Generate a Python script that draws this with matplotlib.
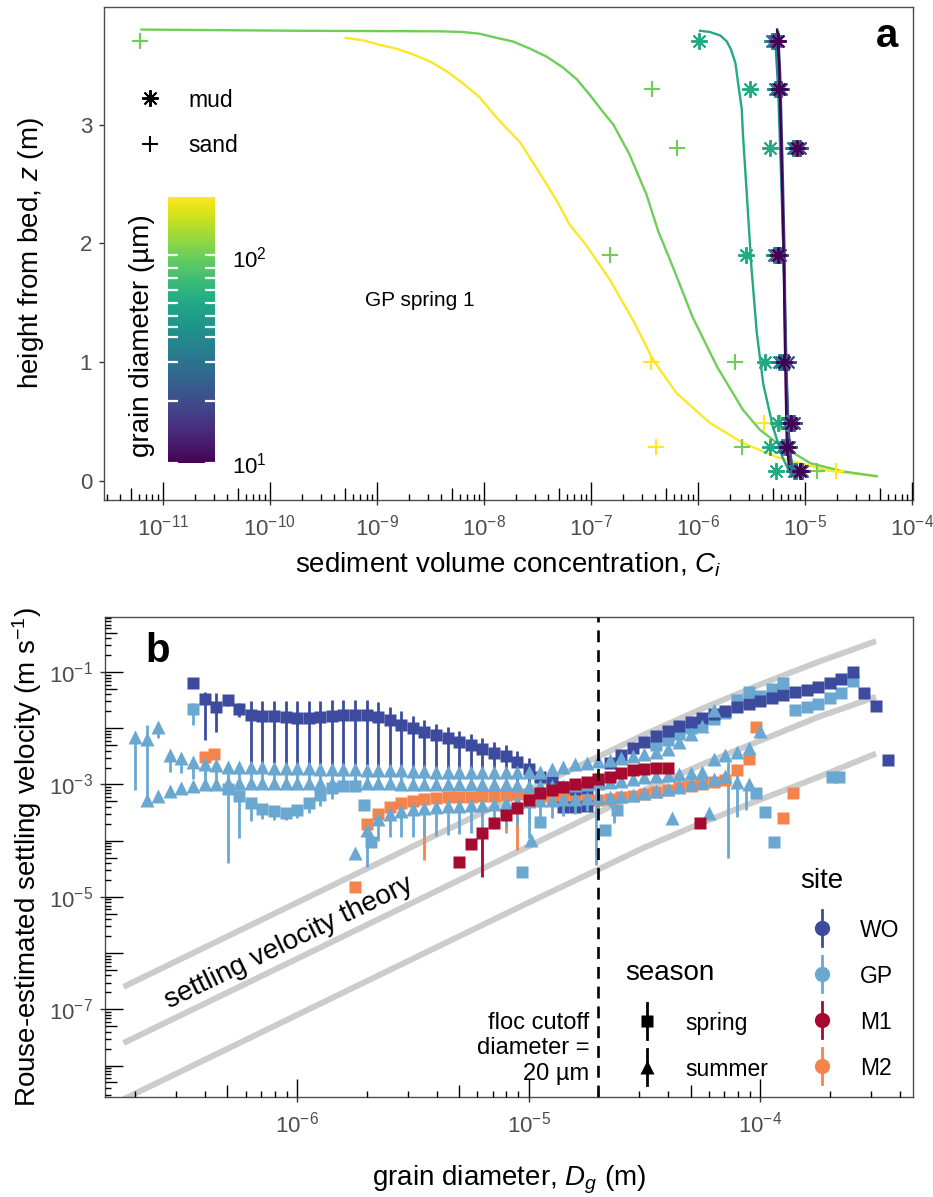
import numpy as np
import matplotlib
matplotlib.use("Agg")
import matplotlib.pyplot as plt
from matplotlib.colors import LogNorm
from matplotlib.cm import ScalarMappable
from matplotlib.lines import Line2D
from matplotlib.ticker import NullLocator

plt.rcParams['font.family'] = ['Liberation Sans', 'DejaVu Sans']
plt.rcParams['mathtext.fontset'] = 'custom'
plt.rcParams['mathtext.rm'] = 'Liberation Sans'
plt.rcParams['mathtext.it'] = 'Liberation Sans:italic'
plt.rcParams['mathtext.bf'] = 'Liberation Sans:bold'

nan = np.nan

# ---------------- panel a: GP spring 1 profiles ----------------
# fitted Rouse profiles: log10 volume concentration and height above bed (m)
prof_196_logc = [-9.29, -9.13, -8.97, -8.82, -8.66, -8.50, -8.35, -8.20, -8.04, -7.92,
                 -7.79, -7.66, -7.57, -7.45, -7.32, -7.20, -7.04, -6.82, -6.61, -6.42,
                 -6.20, -5.89, -5.58, -5.26, -4.79, -4.33]
prof_196_z = [3.73, 3.71, 3.67, 3.64, 3.59, 3.53, 3.45, 3.35, 3.23, 3.10,
              2.97, 2.85, 2.72, 2.55, 2.36, 2.16, 1.98, 1.69, 1.36, 1.02,
              0.74, 0.49, 0.32, 0.20, 0.09, 0.04]
prof_102_logc = [-11.20, -9.72, -8.40, -8.20, -8.04, -7.88, -7.73, -7.57, -7.41, -7.26,
                 -7.13, -7.01, -6.89, -6.79, -6.64, -6.48, -6.37, -6.26, -6.15, -6.05,
                 -5.82, -5.58, -5.42, -5.26, -4.95, -4.64, -4.33]
prof_102_z = [3.80, 3.79, 3.785, 3.78, 3.765, 3.73, 3.70, 3.64, 3.57, 3.48,
              3.38, 3.25, 3.11, 3.00, 2.75, 2.41, 2.10, 1.86, 1.61, 1.38,
              0.96, 0.60, 0.43, 0.32, 0.15, 0.08, 0.04]
prof_60_logc = [-5.98, -5.89, -5.79, -5.73, -5.69, -5.65, -5.62, -5.59, -5.58, -5.54,
                -5.50, -5.45, -5.39, -5.30, -5.21, -5.14]
prof_60_z = [3.79, 3.78, 3.75, 3.70, 3.63, 3.52, 3.32, 3.13, 2.93, 2.37,
             1.80, 1.25, 0.82, 0.46, 0.20, 0.07]
prof_41_logc = [-5.28, -5.25, -5.22, -5.19, -5.17, -5.15, -5.12]
prof_41_z = [3.76, 3.30, 2.50, 1.60, 0.90, 0.35, 0.08]
prof_31_logc = [-5.26, -5.24, -5.22, -5.20, -5.18, -5.16, -5.13, -5.11]
prof_31_z = [3.78, 3.40, 2.70, 1.90, 1.10, 0.50, 0.20, 0.06]
prof_20_logc = [-5.25, -5.23, -5.21, -5.19, -5.18, -5.16, -5.14, -5.12]
prof_20_z = [3.78, 3.40, 2.70, 1.90, 1.10, 0.50, 0.20, 0.06]
prof_10_logc = [-5.26, -5.24, -5.22, -5.20, -5.19, -5.18, -5.17, -5.15, -5.10]
prof_10_z = [3.80, 3.50, 2.80, 2.00, 1.30, 0.80, 0.35, 0.12, 0.03]

# observations at the sensor heights
obs_z = [3.70, 3.30, 2.80, 1.90, 1.00, 0.49, 0.29, 0.08]
sand_196_logc = [nan, nan, nan, nan, -6.44, -5.38, -6.39, -4.71]
sand_102_logc = [-11.21, -6.43, -6.20, -6.82, -5.65, -5.23, -5.59, -4.89]
mud_60_logc = [-5.99, -5.51, -5.33, -5.55, -5.37, -5.25, -5.33, -5.27]
mud_41_logc = [-5.31, -5.28, -5.11, -5.29, -5.24, -5.17, -5.21, -5.10]
mud_31_logc = [-5.29, -5.26, -5.09, -5.27, -5.22, -5.15, -5.19, -5.08]
mud_20_logc = [-5.27, -5.22, -5.05, -5.23, -5.16, -5.10, -5.15, -5.03]
mud_10_logc = [-5.25, -5.24, -5.07, -5.25, -5.20, -5.13, -5.17, -5.05]

class_um = [10, 20, 31, 41, 46, 52, 60, 69, 79, 89, 102]
cbar_min_um, cbar_max_um = 10, 196

# ---------------- panel b: Rouse-estimated settling velocity ----------------
log_d_bins = [-6.70, -6.65, -6.60, -6.55, -6.50, -6.45, -6.40, -6.35, -6.30, -6.25,
              -6.20, -6.15, -6.10, -6.05, -6.00, -5.95, -5.90, -5.85, -5.80, -5.75,
              -5.70, -5.65, -5.60, -5.55, -5.50, -5.45, -5.40, -5.35, -5.30, -5.25,
              -5.20, -5.15, -5.10, -5.05, -5.00, -4.95, -4.90, -4.85, -4.80, -4.75,
              -4.70, -4.65, -4.60, -4.55, -4.50, -4.45, -4.40, -4.35, -4.30, -4.25,
              -4.20, -4.15, -4.10, -4.05, -4.00, -3.95, -3.90, -3.85, -3.80, -3.75,
              -3.70, -3.65, -3.60, -3.55, -3.50, -3.45]

# WO spring (log10 w, starting at bin -6.45)
wo_spring_start = -6.45
wo_spring_logw = [-1.19, -1.48, -1.62, -1.49, -1.66, -1.76, -1.78, -1.79, -1.80, -1.81,
                  -1.81, -1.80, -1.78, -1.77, -1.76, -1.77, -1.80, -1.86, -1.94, -2.00,
                  -2.06, -2.12, -2.18, -2.24, -2.30, -2.37, -2.44, -2.50, -2.60, -2.72,
                  -2.86, -2.96, -3.04, -3.08, -3.06, -2.95, -2.62, -2.47, -2.35, -2.24,
                  -2.14, -2.04, -1.96, -1.88, -1.81, -1.75, -1.69, -1.63, -1.57, -1.51,
                  -1.46, -1.41, -1.36, -1.31, -1.26, -1.20, -1.12, -1.00, -1.37, -1.60, -2.56]
wo_err_start = -6.40
wo_err_lo = [-2.21, -2.07, -1.60, -1.80, -2.62, -2.62, -2.62, -2.63, -2.63, -2.64,
             -2.64, -2.65, -2.65, -2.66, -2.66, -2.67, -2.68, -2.70, -2.72, -2.75,
             -2.78, -2.82, -2.86, -2.90, -2.95, -3.00, -3.05, -3.08, -3.10]
wo_err_hi = [-1.36, -1.37, -1.45, -1.55, -1.52, -1.52, -1.52, -1.52, -1.52, -1.51,
             -1.51, -1.50, -1.50, -1.50, -1.50, -1.54, -1.62, -1.70, -1.78, -1.86,
             -1.92, -1.98, -2.04, -2.10, -2.17, -2.24, -2.30, -2.40, -2.52]
wo_extra_logd = [-4.85, -4.80, -4.75]
wo_extra_logw = [-3.40, -3.40, -3.38]

# GP spring squares
gp_spring_start = -6.45
gp_spring_logw = [-1.66, nan, nan, -3.08, -3.20, -3.33, -3.43, -3.48, -3.50, -3.45,
                  -3.33, -3.18, -3.07, -3.03, -3.02]
gp_spring_lo = [-1.94, nan, nan, -4.40, -3.95, -3.65, -3.62, -3.63, -3.64, -3.60,
                -3.50, -3.38, -3.25, nan, nan]
gp_spring_hi = [-1.55, nan, nan, -2.95, -3.10, -3.30, -3.40, -3.45, -3.47, -3.42,
                -3.30, -3.15, -3.05, nan, nan]
gp_spring2_start = -4.45
gp_spring2_logw = [-2.30, -2.20, -2.10, -2.00, -1.92, -1.83, -1.72, -1.50, -1.36, -1.42,
                   -1.30, -1.20, -1.68, -1.62, -1.56, -1.47, -1.38, -1.16]
gp_sq_logd = [-5.71, -5.68, -5.03, -4.95, -4.67, -4.62, -4.02, -3.98, -3.94, -3.69, -3.66]
gp_sq_logw = [-3.37, -4.02, -4.55, -3.67, -3.81, -3.46, -3.16, -3.49, -4.02, -2.87, -2.87]
gp_bar_logd = [-4.71, -4.14, -4.10, -4.06, -4.63, -5.00]
gp_bar_lo = [-4.43, -4.30, -3.58, -3.45, -3.69, -3.95]
gp_bar_hi = [-2.80, -2.60, -2.74, -3.10, -3.22, -3.30]

# GP summer triangles (three runs)
gp_summer1_start = -6.70
gp_summer1_logw = [-2.16, -2.19, -1.97, -2.48, -2.53, -2.60, -2.64, -2.66, -2.68, -2.68,
                   -2.69, -2.69, -2.70, -2.70, -2.71, -2.71, -2.72, -2.72, -2.73, -2.73,
                   -2.74, -2.74, -2.75, -2.75, -2.76, -2.76, -2.77, -2.77, -2.78, -2.78,
                   -2.78, -2.78, -2.78, -2.78, -2.78, -2.77, -2.73, -2.68, -2.64, -2.61,
                   -2.58, -2.56, -2.53, -2.50, -2.46, -2.42, -2.36, -2.25, -2.10, -1.96, -1.68]
gp_summer1_lo = [-3.10, -3.37, -2.18, -2.78, -2.80, -2.90, -2.93, -2.94, -2.95, -2.95,
                 -2.95, -2.95, -2.95, -2.95, -2.95, -2.95, -2.95, -2.95, -2.95, -2.95,
                 -2.95, -2.96, -2.96, -2.96, -2.96, -2.96, -2.96, -2.97, -2.97, -2.97,
                 -2.97, -2.97, -2.97]
gp_summer1_hi = [-2.07, -1.95, -1.90, -2.40, -2.45, -2.55, -2.60, -2.62, -2.64, -2.64,
                 -2.65, -2.65, -2.66, -2.66, -2.67, -2.67, -2.68, -2.68, -2.69, -2.69,
                 -2.70, -2.70, -2.71, -2.71, -2.72, -2.72, -2.73, -2.73, -2.74, -2.74,
                 -2.74, -2.74, -2.74]
gp_summer2_start = -6.65
gp_summer2_logw = [-3.28, -3.20, -3.12, -3.07, -3.03, -3.00, -2.99, -2.98, -2.98, -2.98,
                   -2.97, -2.97, -2.97, -2.97, -2.97, -2.97, -2.97, -2.97, -2.98, -2.98,
                   -2.98, -2.98, -2.99, -2.99, -2.99, -2.99, -3.00, -3.00, -3.00, -3.00,
                   -3.00, -3.00, -3.01, -3.02, -3.02, -3.02, -3.02, -3.01, -3.00, -2.98,
                   -2.96, -2.93, -2.90, -2.87, -2.85, -2.83, -2.82, -2.80, -2.78, -2.55,
                   -2.48, -2.42, -2.35, -2.05]
gp_summer3_start = -5.75
gp_summer3_logw = [-4.22, -3.81, -3.62, -3.52, -3.47, -3.44, -3.42, -3.40, -3.39, -3.38,
                   -3.37, -3.36, -3.35, -3.33, -3.31, -3.29, -3.28, -3.27, -3.26, -3.25,
                   -3.24, -3.23, -3.22, -3.20, -3.18, -3.15, -3.12, -3.08, -3.04, -3.00,
                   -2.95, -2.90, -2.85, -2.95, -3.00]
gp_summer3_err_start = -5.70
gp_summer3_lo = [-4.47, -4.00, -3.94, -3.94, -3.93, -3.92, -3.91, -3.90, -3.88, -3.86,
                 -3.84, -3.80, -3.76, -3.72, -3.68, -3.64, -3.60, -3.56, -3.52, -3.48,
                 -3.44, -3.40]
gp_summer3_hi = [-3.81, -3.62, -3.52, -3.47, -3.44, -3.42, -3.40, -3.39, -3.38, -3.37,
                 -3.36, -3.35, -3.33, -3.31, -3.29, -3.28, -3.27, -3.26, -3.25, -3.24,
                 -3.23, -3.22]
gp_tri_logd = [-4.99, -4.38, -4.22]
gp_tri_logw = [-3.98, -3.60, -3.51]

# M1 spring
m1_start = -5.30
m1_logw = [-4.38, -4.06, -3.87, -3.69, -3.54, -3.42, -3.28, -3.16, -3.10, -3.05,
           -3.00, -2.96, -2.90, -2.86, -2.80, -2.75, -2.73, -2.71, -2.70]
m1_sq_logd = [-4.26]
m1_sq_logw = [-3.69]
m1_bar_logd = [-5.20]
m1_bar_lo = [-4.65]
m1_bar_hi = [-3.80]

# M2 spring
m2_start = -5.70
m2_logw = [-3.70, -3.52, -3.40, -3.33, -3.29, -3.26, -3.24, -3.23, -3.22, -3.22,
           -3.21, -3.20, -3.19, -3.17, -3.17, -3.20, -3.22, -3.25, -3.27, -3.28,
           -3.28, -3.26, -3.23, -3.21, -3.17, -3.13, -3.09, -3.05, -3.02, -2.99,
           -2.95, -2.92, -2.74, -2.55]
m2_sq_logd = [-6.40, -6.36, -5.75, -4.02, -3.90, -3.86]
m2_sq_logw = [-2.51, -2.46, -4.83, -1.98, -3.60, -3.16]
m2_bar_logd = [-5.45, -5.10, -5.05]
m2_bar_lo = [-4.35, -3.87, -4.17]
m2_bar_hi = [-3.26, -3.19, -3.17]

# settling velocity theory curves
theory_logd = [-6.75, -6.00, -5.50, -5.00, -4.50, -4.25, -4.00, -3.75, -3.50]
theory_fast_logw = [-6.60, -5.10, -4.10, -3.10, -2.11, -1.65, -1.22, -0.82, -0.45]
theory_mid_logw = [-7.60, -6.10, -5.10, -4.10, -3.10, -2.64, -2.22, -1.80, -1.44]
theory_slow_logw = [-8.60, -7.10, -6.10, -5.10, -4.12, -3.68, -3.27, -2.87, -2.45]

floc_cutoff_m = 2e-5

site_colors = {'WO': '#3C4B9E', 'GP': '#6AA8D2', 'M1': '#A60A2E', 'M2': '#F5844C'}

# ---------------- figure ----------------
W, H = 933.0, 1197.0
fig = plt.figure(figsize=(W / 100, H / 100), dpi=100)


def P(x, y):
    return x / W, 1 - y / H


def box(l, t, r, b):
    return [l / W, 1 - b / H, (r - l) / W, (b - t) / H]


axa = fig.add_axes(box(104, 7, 913, 500))
axb = fig.add_axes(box(105, 617, 913, 1097))

for ax in (axa, axb):
    for s in ax.spines.values():
        s.set_color('#4D4D4D')
        s.set_linewidth(1.0)
    ax.tick_params(which='major', length=3.5, width=1.0, color='#333333',
                   labelcolor='#4D4D4D', labelsize=16, direction='out')
    ax.tick_params(axis='x', pad=7)
    ax.tick_params(axis='y', pad=5)


def logticks(ax, side):
    bb = ax.get_window_extent()
    if side == 'b':
        lo, hi = np.log10(ax.get_xlim())
        size, trans = bb.height, ax.get_xaxis_transform()
    else:
        lo, hi = np.log10(ax.get_ylim())
        size, trans = bb.width, ax.get_yaxis_transform()
    for dec in range(int(np.floor(lo)), int(np.ceil(hi)) + 1):
        for k in range(1, 10):
            v = dec + np.log10(k)
            if v < lo or v > hi:
                continue
            L = 18 if k == 1 else (12 if k == 5 else 6)
            f = L / size
            if side == 'b':
                ax.plot([10 ** v] * 2, [0, f], transform=trans, color='black', lw=1.0,
                        clip_on=False, zorder=10, solid_capstyle='butt')
            else:
                ax.plot([0, f], [10 ** v] * 2, transform=trans, color='black', lw=1.0,
                        clip_on=False, zorder=10, solid_capstyle='butt')


# ---- panel a ----
norm = LogNorm(vmin=cbar_min_um, vmax=cbar_max_um)
cmap = plt.get_cmap('viridis')

profiles = [(196, prof_196_logc, prof_196_z), (102, prof_102_logc, prof_102_z),
            (60, prof_60_logc, prof_60_z), (41, prof_41_logc, prof_41_z),
            (31, prof_31_logc, prof_31_z), (20, prof_20_logc, prof_20_z),
            (10, prof_10_logc, prof_10_z)]
for um, lc, z in profiles:
    axa.plot(10.0 ** np.array(lc), z, color=cmap(norm(um)), lw=1.7, zorder=2,
             solid_joinstyle='round')

sand_pts = [(196, sand_196_logc), (102, sand_102_logc)]
mud_pts = [(60, mud_60_logc), (41, mud_41_logc), (31, mud_31_logc),
           (20, mud_20_logc), (10, mud_10_logc)]
for um, lc in sand_pts:
    axa.plot(10.0 ** np.array(lc), obs_z, ls='none', marker='+', ms=11, mew=1.5,
             color=cmap(norm(um)), zorder=3)
for um, lc in mud_pts:
    axa.plot(10.0 ** np.array(lc), obs_z, ls='none', marker=(8, 2, 0), ms=12, mew=1.4,
             color=cmap(norm(um)), zorder=3)

axa.set_xscale('log')
axa.set_xlim(10 ** -11.55, 10 ** -3.99)
axa.set_ylim(-0.16, 3.99)
axa.set_xticks([10.0 ** k for k in range(-11, -3)])
axa.set_xticklabels([f'$10^{{{k}}}$' for k in range(-11, -3)])
axa.xaxis.set_minor_locator(NullLocator())
axa.set_yticks([0, 1, 2, 3])
axa.set_ylabel('height from bed, $z$ (m)', fontsize=20)
axa.set_xlabel('sediment volume concentration, $C_i$', fontsize=20)
axa.xaxis.label.set_va('center')
axa.xaxis.set_label_coords(0.5, -0.132)
axa.yaxis.label.set_va('center')
axa.yaxis.set_label_coords(-0.090, 0.5)
logticks(axa, 'b')

fig.text(*P(876, 47), 'a', fontsize=29, fontweight='bold', ha='left', va='baseline')
fig.text(*P(365, 300), 'GP spring 1', fontsize=15, ha='left', va='center')

# shape legend
fig.add_artist(Line2D([P(150, 98)[0]], [P(150, 98)[1]], marker=(8, 2, 0), ms=12, mew=1.4,
                      color='black', transform=fig.transFigure))
fig.add_artist(Line2D([P(150, 144)[0]], [P(150, 144)[1]], marker='+', ms=11, mew=1.5,
                      color='black', transform=fig.transFigure))
fig.text(*P(188, 107), 'mud', fontsize=16.5, ha='left', va='baseline')
fig.text(*P(188, 152), 'sand', fontsize=16.5, ha='left', va='baseline')

# colour bar
cax = fig.add_axes(box(168, 197, 215, 463))
cb = fig.colorbar(ScalarMappable(norm=norm, cmap=cmap), cax=cax)
cb.outline.set_visible(False)
cb.minorticks_off()
cax.yaxis.set_minor_locator(NullLocator())
cax.set_yticks([10, 100])
cax.set_yticklabels(['$10^1$', '$10^2$'])
cax.tick_params(length=0, pad=12, labelsize=16, labelcolor='black')
for um in class_um:
    cax.plot([0, 0.21], [um, um], transform=cax.get_yaxis_transform(), color='white',
             lw=1.6, solid_capstyle='butt')
    cax.plot([0.79, 1], [um, um], transform=cax.get_yaxis_transform(), color='white',
             lw=1.6, solid_capstyle='butt')
fig.text(*P(142, 336), 'grain diameter (µm)', rotation=90, fontsize=20,
         ha='center', va='center')

# ---- panel b ----
bins_arr = np.array(log_d_bins)


def on_bins(start, n):
    i0 = int(np.argmin(np.abs(bins_arr - start)))
    return 10.0 ** bins_arr[i0:i0 + n]


def bars(x, lo, hi, color, z):
    lo = np.array(lo, float)
    hi = np.array(hi, float)
    ok = ~np.isnan(lo) & ~np.isnan(hi)
    axb.vlines(np.asarray(x)[ok], 10 ** lo[ok], 10 ** hi[ok], color=color, lw=2.0, zorder=z)


def pts(x, logw, color, marker, z):
    ms = 8.5 if marker == 's' else 10.5
    axb.plot(x, 10.0 ** np.array(logw, float), ls='none', marker=marker, ms=ms,
             mfc=color, mec='none', zorder=z)


for lw_list in (theory_fast_logw, theory_mid_logw, theory_slow_logw):
    axb.plot(10.0 ** np.array(theory_logd), 10.0 ** np.array(lw_list), color='#CCCCCC',
             lw=4.3, solid_capstyle='butt', solid_joinstyle='round', zorder=1)

gp, wo, m1, m2 = site_colors['GP'], site_colors['WO'], site_colors['M1'], site_colors['M2']

# GP spring
bars(on_bins(gp_spring_start, len(gp_spring_lo)), gp_spring_lo, gp_spring_hi, gp, 2)
pts(on_bins(gp_spring_start, len(gp_spring_logw)), gp_spring_logw, gp, 's', 2.1)
pts(on_bins(gp_spring2_start, len(gp_spring2_logw)), gp_spring2_logw, gp, 's', 2.1)
bars(10.0 ** np.array(gp_bar_logd), gp_bar_lo, gp_bar_hi, gp, 2)
pts(10.0 ** np.array(gp_sq_logd), gp_sq_logw, gp, 's', 2.1)

# M2
bars(10.0 ** np.array(m2_bar_logd), m2_bar_lo, m2_bar_hi, m2, 3)
pts(on_bins(m2_start, len(m2_logw)), m2_logw, m2, 's', 3.1)
pts(10.0 ** np.array(m2_sq_logd), m2_sq_logw, m2, 's', 3.1)

# WO
bars(on_bins(wo_err_start, len(wo_err_lo)), wo_err_lo, wo_err_hi, wo, 4)
pts(on_bins(wo_spring_start, len(wo_spring_logw)), wo_spring_logw, wo, 's', 4.1)
pts(10.0 ** np.array(wo_extra_logd), wo_extra_logw, wo, 's', 4.1)

# GP summer
pts(on_bins(gp_summer2_start, len(gp_summer2_logw)), gp_summer2_logw, gp, '^', 5)
bars(on_bins(gp_summer1_start, len(gp_summer1_lo)), gp_summer1_lo, gp_summer1_hi, gp, 5.1)
pts(on_bins(gp_summer1_start, len(gp_summer1_logw)), gp_summer1_logw, gp, '^', 5.2)
bars(on_bins(gp_summer3_err_start, len(gp_summer3_lo)), gp_summer3_lo, gp_summer3_hi, gp, 5.3)
pts(on_bins(gp_summer3_start, len(gp_summer3_logw)), gp_summer3_logw, gp, '^', 5.4)
pts(10.0 ** np.array(gp_tri_logd), gp_tri_logw, gp, '^', 5.4)

# M1
bars(10.0 ** np.array(m1_bar_logd), m1_bar_lo, m1_bar_hi, m1, 6)
pts(on_bins(m1_start, len(m1_logw)), m1_logw, m1, 's', 6.1)
pts(10.0 ** np.array(m1_sq_logd), m1_sq_logw, m1, 's', 6.1)

axb.axvline(floc_cutoff_m, color='black', lw=1.9, ls=(0, (4.5, 3)), zorder=8)

axb.set_xscale('log')
axb.set_yscale('log')
axb.set_xlim(10 ** -6.83, 10 ** -3.34)
axb.set_ylim(10 ** -8.56, 10 ** -0.02)
axb.set_xticks([1e-6, 1e-5, 1e-4])
axb.set_xticklabels(['$10^{-6}$', '$10^{-5}$', '$10^{-4}$'])
axb.set_yticks([1e-1, 1e-3, 1e-5, 1e-7])
axb.set_yticklabels(['$10^{-1}$', '$10^{-3}$', '$10^{-5}$', '$10^{-7}$'])
axb.xaxis.set_minor_locator(NullLocator())
axb.yaxis.set_minor_locator(NullLocator())
axb.set_xlabel('grain diameter, $D_g$ (m)', fontsize=20)
axb.set_ylabel('Rouse-estimated settling velocity (m s$^{-1}$)', fontsize=20)
axb.xaxis.label.set_va('center')
axb.xaxis.set_label_coords(0.5, -0.173)
axb.yaxis.label.set_va('center')
axb.yaxis.set_label_coords(-0.0965, 0.5)
logticks(axb, 'b')
logticks(axb, 'l')

axb.text(10 ** -6.035, 10 ** -5.82, 'settling velocity theory', rotation=25.9,
         rotation_mode='anchor', ha='center', va='center', fontsize=20, zorder=9)
axb.text(10 ** -4.739, 10 ** -7.69, 'floc cutoff\ndiameter =\n20 µm', ha='right',
         va='center', multialignment='right', fontsize=17, zorder=9)
fig.text(*P(145, 662), 'b', fontsize=29, fontweight='bold', ha='left', va='baseline')

# legends for panel b
def glyph(x, y, marker, color, ms):
    fx, fy = P(x, y)
    fig.add_artist(Line2D([fx, fx], [P(x, y - 18)[1], P(x, y + 18)[1]], color=color, lw=2.0,
                          transform=fig.transFigure))
    fig.add_artist(Line2D([fx], [fy], marker=marker, ms=ms, mfc=color, mec='none',
                          transform=fig.transFigure))


fig.text(*P(625, 980), 'season', fontsize=20, ha='left', va='baseline')
glyph(647, 1021, 's', 'black', 8.5)
glyph(647, 1067, '^', 'black', 10)
fig.text(*P(685, 1030), 'spring', fontsize=16.5, ha='left', va='baseline')
fig.text(*P(685, 1076), 'summer', fontsize=16.5, ha='left', va='baseline')

fig.text(*P(800, 888), 'site', fontsize=20, ha='left', va='baseline')
for i, name in enumerate(['WO', 'GP', 'M1', 'M2']):
    yy = 928 + 46 * i
    glyph(822, yy, 'o', site_colors[name], 11)
    fig.text(*P(860, yy + 9), name, fontsize=16.5, ha='left', va='baseline')

fig.savefig('out.png', dpi=100)
